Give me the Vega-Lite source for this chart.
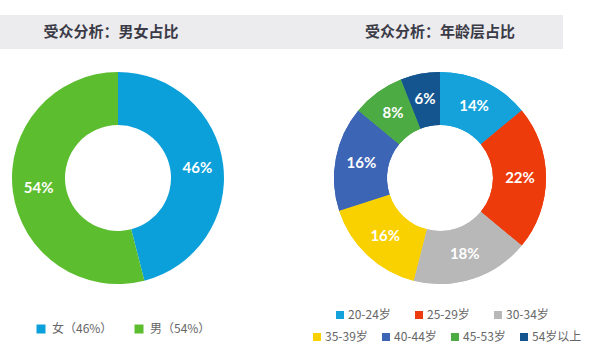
{
  "$schema": "https://vega.github.io/schema/vega-lite/v6.json",
  "background": "white",
  "padding": {"left": 0, "top": 15, "right": 0, "bottom": 0},
  "spacing": 10,
  "datasets": {
    "titles": [
      {"chart": "gender", "title": "受众分析：男女占比"},
      {"chart": "age", "title": "受众分析：年龄层占比"}
    ],
    "pie": [
      {"chart": "gender", "cat": "女（46%）", "value": 46, "label": "46%"},
      {"chart": "gender", "cat": "男（54%）", "value": 54, "label": "54%"},
      {"chart": "age", "cat": "20-24岁", "value": 14, "label": "14%"},
      {"chart": "age", "cat": "25-29岁", "value": 22, "label": "22%"},
      {"chart": "age", "cat": "30-34岁", "value": 18, "label": "18%"},
      {"chart": "age", "cat": "35-39岁", "value": 16, "label": "16%"},
      {"chart": "age", "cat": "40-44岁", "value": 16, "label": "16%"},
      {"chart": "age", "cat": "45-53岁", "value": 8, "label": "8%"},
      {"chart": "age", "cat": "54岁以上", "value": 6, "label": "6%"}
    ]
  },
  "vconcat": [
    {
      "width": 563,
      "height": 34,
      "view": {"fill": "#ececee", "stroke": null},
      "data": {"name": "titles"},
      "mark": {"type": "text", "font": "Noto Sans CJK SC", "fontSize": 15, "fontWeight": "bold", "color": "#3b3b47", "baseline": "middle"},
      "encoding": {
        "x": {"field": "chart", "type": "nominal", "scale": {"type": "point", "domain": ["gender", "age"], "range": [111, 440], "padding": 0}, "axis": null},
        "text": {"field": "title"}
      }
    },
    {
      "width": 563,
      "height": 238,
      "view": {"stroke": null},
      "data": {"name": "pie"},
      "encoding": {
        "x": {"field": "chart", "type": "nominal", "scale": {"type": "point", "domain": ["gender", "age"], "range": [118, 440], "padding": 0}, "axis": null}
      },
      "layer": [
        {
          "transform": [{"filter": "datum.chart === 'gender'"}],
          "mark": {"type": "arc", "innerRadius": 53, "radius": 106},
          "encoding": {
            "theta": {"field": "value", "type": "quantitative", "stack": true},
            "order": {"field": "cat", "type": "nominal", "sort": "ascending"},
            "color": {
              "field": "cat", "type": "nominal",
              "scale": {"domain": ["女（46%）", "男（54%）"], "range": ["#0ba0d9", "#5cbd2f"]},
              "legend": {"title": null, "orient": "none", "legendX": 35, "legendY": 264, "direction": "horizontal", "symbolSize": 81, "labelOffset": 5, "columnPadding": 20}
            }
          }
        },
        {
          "transform": [{"filter": "datum.chart === 'gender'"}],
          "mark": {"type": "text", "radius": 80, "font": "Lato", "fontSize": 15, "fontWeight": "bold", "color": "white", "baseline": "middle"},
          "encoding": {
            "theta": {"field": "value", "type": "quantitative", "stack": true},
            "order": {"field": "cat", "type": "nominal", "sort": "ascending"},
            "text": {"field": "label"}
          }
        },
        {
          "transform": [{"filter": "datum.chart === 'age'"}],
          "mark": {"type": "arc", "innerRadius": 53, "radius": 106},
          "encoding": {
            "theta": {"field": "value", "type": "quantitative", "stack": true},
            "order": {"field": "cat", "type": "nominal", "sort": "ascending"},
            "color": {
              "field": "cat", "type": "nominal",
              "scale": {"domain": ["20-24岁", "25-29岁", "30-34岁", "35-39岁", "40-44岁", "45-53岁", "54岁以上"], "range": ["#15a2db", "#ee3b0b", "#b8b8b8", "#f9d000", "#3d65b6", "#4dab43", "#15558f"]},
              "legend": {"title": null, "orient": "none", "legendX": 334, "legendY": 250, "direction": "horizontal", "values": ["20-24岁", "25-29岁", "30-34岁"], "symbolSize": 64, "labelOffset": 2, "columnPadding": 22}
            }
          }
        },
        {
          "transform": [{"filter": "datum.chart === 'age'"}],
          "mark": {"type": "arc", "innerRadius": 53, "radius": 106},
          "encoding": {
            "theta": {"field": "value", "type": "quantitative", "stack": true},
            "order": {"field": "cat", "type": "nominal", "sort": "ascending"},
            "color": {
              "field": "cat", "type": "nominal",
              "scale": {"domain": ["20-24岁", "25-29岁", "30-34岁", "35-39岁", "40-44岁", "45-53岁", "54岁以上"], "range": ["#15a2db", "#ee3b0b", "#b8b8b8", "#f9d000", "#3d65b6", "#4dab43", "#15558f"]},
              "legend": {"title": null, "orient": "none", "legendX": 311, "legendY": 272, "direction": "horizontal", "values": ["35-39岁", "40-44岁", "45-53岁", "54岁以上"], "symbolSize": 64, "labelOffset": 2, "columnPadding": 12}
            }
          }
        },
        {
          "transform": [{"filter": "datum.chart === 'age'"}],
          "mark": {"type": "text", "radius": 80, "font": "Lato", "fontSize": 15, "fontWeight": "bold", "color": "white", "baseline": "middle"},
          "encoding": {
            "theta": {"field": "value", "type": "quantitative", "stack": true},
            "order": {"field": "cat", "type": "nominal", "sort": "ascending"},
            "text": {"field": "label"}
          }
        }
      ],
      "resolve": {"scale": {"color": "independent"}, "legend": {"color": "independent"}}
    }
  ],
  "config": {
    "view": {"stroke": null},
    "legend": {"symbolType": "square", "labelFont": "Noto Sans CJK SC", "labelFontSize": 12, "labelColor": "#666666", "padding": 0}
  }
}
